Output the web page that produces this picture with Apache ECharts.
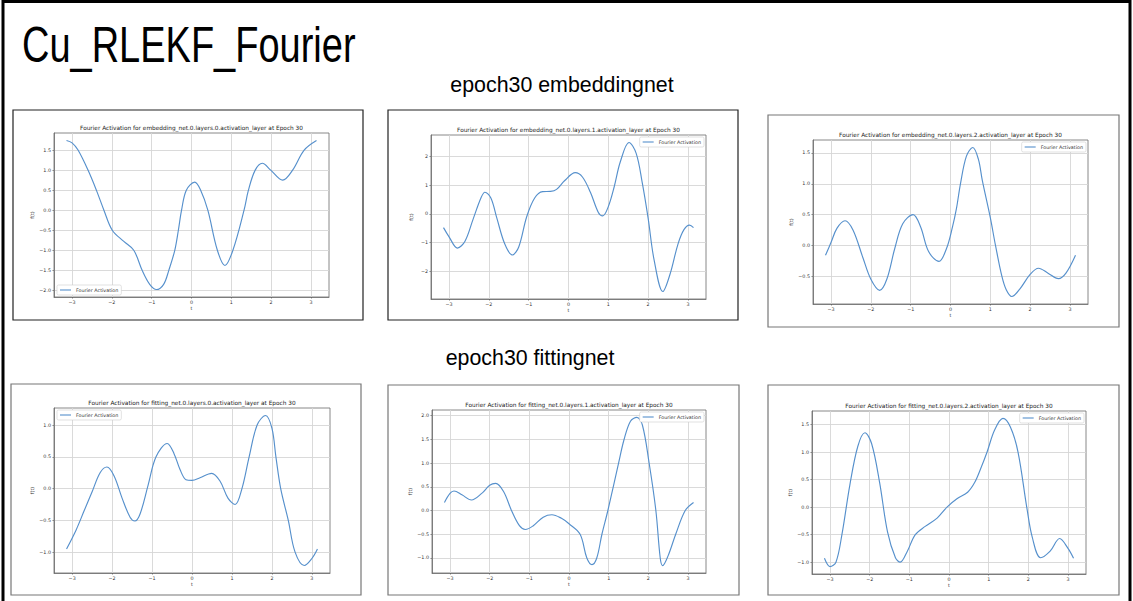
<!DOCTYPE html>
<html>
<head>
<meta charset="utf-8">
<script src="https://cdn.jsdelivr.net/npm/echarts@6/dist/echarts.min.js"></script>
<style>
html,body{margin:0;padding:0;background:#fff;}
#c{width:1133px;height:601px;}
</style>
</head>
<body>
<div id="c"></div>
<script>
// ---------------- DATA ----------------
const slideTitle = 'Cu_RLEKF_Fourier';
const sectionTitles = ['epoch30 embeddingnet', 'epoch30 fittingnet'];
const plotTitles = [
  'Fourier Activation for embedding_net.0.layers.0.activation_layer at Epoch 30',
  'Fourier Activation for embedding_net.0.layers.1.activation_layer at Epoch 30',
  'Fourier Activation for embedding_net.0.layers.2.activation_layer at Epoch 30',
  'Fourier Activation for fitting_net.0.layers.0.activation_layer at Epoch 30',
  'Fourier Activation for fitting_net.0.layers.1.activation_layer at Epoch 30',
  'Fourier Activation for fitting_net.0.layers.2.activation_layer at Epoch 30'
];
const seriesName = 'Fourier Activation';
const xName = 't';
const yName = 'f(t)';
const xTicks = [-3, -2, -1, 0, 1, 2, 3];

const emb0T = [-3.14,-3.0,-2.85,-2.6,-2.39,-2.2,-1.99,-1.7,-1.45,-1.24,-1.05,-0.88,-0.7,-0.57,-0.42,-0.33,-0.25,-0.13,0.08,0.23,0.41,0.65,0.84,1.04,1.32,1.43,1.6,1.78,1.99,2.29,2.54,2.83,3.14];
const emb0F = [1.74,1.68,1.5,1.0,0.5,0.0,-0.5,-0.78,-1.0,-1.5,-1.85,-1.98,-1.85,-1.5,-1.0,-0.5,0.0,0.5,0.70,0.5,0.0,-1.0,-1.38,-1.0,0.0,0.5,1.0,1.17,1.0,0.75,1.0,1.5,1.74];
const emb0Y = [-2.0,-1.5,-1.0,-0.5,0.0,0.5,1.0,1.5];

const emb1T = [-3.14,-3.0,-2.79,-2.6,-2.4,-2.2,-2.1,-1.95,-1.8,-1.6,-1.41,-1.25,-1.05,-0.85,-0.65,-0.45,-0.3,-0.1,0.17,0.35,0.55,0.75,0.86,1.0,1.15,1.3,1.52,1.7,1.85,2.0,2.15,2.37,2.55,2.75,2.9,3.04,3.14];
const emb1F = [-0.48,-0.8,-1.19,-0.95,-0.2,0.55,0.75,0.55,-0.15,-1.05,-1.43,-1.15,-0.1,0.55,0.77,0.78,0.85,1.15,1.43,1.28,0.75,0.05,-0.07,0.25,0.95,1.8,2.48,2.1,1.1,-0.15,-1.6,-2.7,-2.1,-1.05,-0.55,-0.39,-0.48];
const emb1Y = [-2, -1, 0, 1, 2];

const emb2T = [-3.14,-3.0,-2.85,-2.65,-2.45,-2.2,-2.0,-1.78,-1.6,-1.4,-1.2,-0.94,-0.75,-0.55,-0.29,-0.1,0.05,0.15,0.25,0.4,0.56,0.7,0.8,1.0,1.13,1.29,1.4,1.54,1.75,2.0,2.21,2.45,2.71,2.9,3.14];
const emb2F = [-0.16,0.05,0.28,0.40,0.25,-0.2,-0.55,-0.73,-0.55,-0.05,0.35,0.50,0.3,-0.1,-0.26,-0.05,0.3,0.6,1.0,1.45,1.59,1.4,1.05,0.45,0.0,-0.5,-0.72,-0.83,-0.7,-0.47,-0.37,-0.45,-0.54,-0.45,-0.16];
const emb2Y = [-0.5, 0.0, 0.5, 1.0, 1.5];

const fit0T = [-3.14,-2.9,-2.7,-2.5,-2.3,-2.13,-1.95,-1.75,-1.55,-1.43,-1.3,-1.1,-0.9,-0.62,-0.45,-0.3,-0.15,0.0,0.2,0.49,0.7,0.9,1.08,1.25,1.43,1.63,1.84,2.0,2.1,2.22,2.41,2.58,2.81,3.0,3.14];
const fit0F = [-0.95,-0.65,-0.35,-0.05,0.25,0.34,0.2,-0.15,-0.45,-0.51,-0.4,0.05,0.5,0.71,0.55,0.3,0.14,0.13,0.17,0.24,0.12,-0.15,-0.25,0.0,0.5,1.0,1.15,0.95,0.5,0.0,-0.5,-1.0,-1.21,-1.1,-0.95];
const fit0Y = [-1.0, -0.5, 0.0, 0.5, 1.0];

const fit1T = [-3.14,-3.0,-2.9,-2.7,-2.46,-2.2,-2.0,-1.85,-1.65,-1.45,-1.25,-1.1,-0.9,-0.65,-0.43,-0.2,0.0,0.28,0.45,0.58,0.7,0.83,0.98,1.25,1.39,1.55,1.71,1.85,2.02,2.19,2.3,2.36,2.5,2.69,2.93,3.14];
const fit1F = [0.17,0.36,0.41,0.33,0.22,0.36,0.53,0.57,0.4,0.0,-0.32,-0.40,-0.32,-0.14,-0.09,-0.16,-0.28,-0.5,-1.0,-1.14,-1.0,-0.5,0.0,1.0,1.5,1.88,1.96,1.8,1.0,0.0,-1.0,-1.16,-0.95,-0.5,0.0,0.17];
const fit1Y = [-1.0, -0.5, 0.0, 0.5, 1.0, 1.5, 2.0];

const fit2T = [-3.14,-3.0,-2.85,-2.7,-2.5,-2.3,-2.12,-1.95,-1.75,-1.55,-1.35,-1.23,-1.05,-0.85,-0.6,-0.3,-0.05,0.2,0.47,0.65,0.8,0.96,1.15,1.36,1.55,1.74,1.96,2.1,2.31,2.55,2.79,3.0,3.14];
const fit2F = [-0.93,-1.08,-1.0,-0.5,0.4,1.1,1.35,1.15,0.45,-0.45,-0.92,-1.0,-0.8,-0.5,-0.35,-0.2,0.0,0.15,0.27,0.45,0.7,1.0,1.4,1.61,1.45,1.0,0.0,-0.55,-0.92,-0.8,-0.57,-0.75,-0.93];
const fit2Y = [-1.0, -0.5, 0.0, 0.5, 1.0, 1.5];

// ---------------- LAYOUT ----------------
const plotsT = [emb0T, emb1T, emb2T, fit0T, fit1T, fit2T];
const plotsF = [emb0F, emb1F, emb2F, fit0F, fit1F, fit2F];
const plotsY = [emb0Y, emb1Y, emb2Y, fit0Y, fit1Y, fit2Y];

const W = 1133, H = 601;
const boxes = [
  {bx:13, by:110, bw:350, bh:210, gl:54,  gt:133, gr:329, gb:297, col:'#222', leg:'ll'},
  {bx:388,by:110, bw:350, bh:210, gl:431, gt:135, gr:706, gb:299, col:'#222', leg:'ur'},
  {bx:768,by:115, bw:351, bh:212, gl:813, gt:140, gr:1088,gb:304, col:'#777', leg:'ur'},
  {bx:11, by:384, bw:350, bh:211, gl:54,  gt:408, gr:330, gb:573, col:'#777', leg:'ul'},
  {bx:388,by:385, bw:351, bh:210, gl:432, gt:410, gr:706, gb:573, col:'#777', leg:'ur'},
  {bx:768,by:385, bw:351, bh:210, gl:812, gt:411, gr:1086,gb:574, col:'#777', leg:'ur'}
];

const FONT = 'DejaVu Sans';
const LINE = '#5690cc';
const fmtNum = (v, d) => (v < 0 ? '\u2212' : '') + Math.abs(v).toFixed(d);

const grid = [], xAxis = [], yAxis = [], series = [], legend = [], graphic = [];

function extent(arr) {
  let mn = Math.min(...arr), mx = Math.max(...arr);
  const m = (mx - mn) * 0.05;
  return [mn - m, mx + m];
}

boxes.forEach((b, i) => {
  const T = plotsT[i], F = plotsF[i], Yt = plotsY[i];
  const xe = extent(T), ye = extent(F);
  const yStep = Yt[1] - Yt[0];
  const dec = Number.isInteger(yStep) ? 0 : 1;
  grid.push({left: b.gl, top: b.gt, width: b.gr - b.gl, height: b.gb - b.gt,
    show: true, borderColor: '#6a6a6a', borderWidth: 0.8, containLabel: false});
  xAxis.push({
    type: 'value', gridIndex: i, min: xe[0], max: xe[1], splitNumber: 6,
    name: xName, nameLocation: 'middle', nameGap: 9,
    nameTextStyle: {fontSize: 4.8, fontFamily: FONT, color: '#333'},
    axisLine: {show: true, onZero: false, lineStyle: {color: '#6a6a6a', width: 0.8}},
    axisTick: {show: true, length: 1.6, customValues: xTicks, lineStyle: {color: '#555', width: 0.6}},
    axisLabel: {customValues: xTicks, fontSize: 4.8, fontFamily: FONT, color: '#333', margin: 3,
      showMinLabel: true, showMaxLabel: true, formatter: v => fmtNum(v, 0)},
    splitLine: {show: true, lineStyle: {color: '#d6d6d6', width: 0.9}}
  });
  yAxis.push({
    type: 'value', gridIndex: i, min: ye[0], max: ye[1], splitNumber: 6,
    name: yName, nameLocation: 'middle', nameGap: 17,
    nameTextStyle: {fontSize: 4.8, fontFamily: FONT, color: '#333'},
    axisLine: {show: true, onZero: false, lineStyle: {color: '#6a6a6a', width: 0.8}},
    axisTick: {show: true, length: 1.6, customValues: Yt, lineStyle: {color: '#555', width: 0.6}},
    axisLabel: {customValues: Yt, fontSize: 4.8, fontFamily: FONT, color: '#333', margin: 3,
      formatter: v => fmtNum(v, dec)},
    splitLine: {show: true, lineStyle: {color: '#d6d6d6', width: 0.9}}
  });
  series.push({
    name: seriesName, type: 'line', xAxisIndex: i, yAxisIndex: i,
    data: T.map((t, k) => [t, F[k]]),
    smooth: 0.35, symbol: 'none', silent: true, animation: false,
    lineStyle: {color: LINE, width: 1.15}, itemStyle: {color: LINE}
  });
  const lg = {
    data: [{name: seriesName, icon: 'rect'}], selectedMode: false, orient: 'horizontal',
    itemWidth: 11, itemHeight: 1.1, itemGap: 2,
    padding: [2.5, 3, 2.5, 3], borderColor: '#cfcfcf', borderWidth: 0.6, borderRadius: 1.5,
    backgroundColor: '#ffffff',
    textStyle: {fontSize: 4.8, fontFamily: FONT, color: '#333', padding: [0, 0, 0, 0]}
  };
  if (b.leg === 'll') { lg.left = b.gl + 3; lg.top = b.gb - 12; }
  else if (b.leg === 'ul') { lg.left = b.gl + 3; lg.top = b.gt + 2; }
  else { lg.right = W - (b.gr - 2); lg.top = b.gt + 2; }
  legend.push(lg);

  graphic.push({type: 'rect', silent: true, z: 0,
    shape: {x: b.bx, y: b.by, width: b.bw, height: b.bh},
    style: {fill: 'none', stroke: b.col, lineWidth: 1.2}});
  graphic.push({type: 'text', silent: true,
    style: {text: plotTitles[i], x: (b.gl + b.gr) / 2, y: b.gt - 5,
      align: 'center', verticalAlign: 'middle', fill: '#222',
      font: '5.8px "' + FONT + '"'}});
});

// slide frame and headings
graphic.push({type: 'rect', silent: true,
  shape: {x: 3, y: 1.5, width: 1127, height: 640},
  style: {fill: 'none', stroke: '#000', lineWidth: 3}});
graphic.push({type: 'text', silent: true, x: 22, y: 45, scaleX: 0.76,
  style: {text: slideTitle, x: 0, y: 0, verticalAlign: 'middle', align: 'left',
    fill: '#000', font: '50px "Liberation Sans"'}});
graphic.push({type: 'text', silent: true, x: 562, y: 84, scaleX: 0.93,
  style: {text: sectionTitles[0], x: 0, y: 0, verticalAlign: 'middle', align: 'center',
    fill: '#000', font: '23px "Liberation Sans"'}});
graphic.push({type: 'text', silent: true, x: 530, y: 357, scaleX: 0.93,
  style: {text: sectionTitles[1], x: 0, y: 0, verticalAlign: 'middle', align: 'center',
    fill: '#000', font: '23px "Liberation Sans"'}});

const chart = echarts.init(document.getElementById('c'), null, {renderer: 'svg', width: W, height: H});
chart.setOption({
  animation: false,
  backgroundColor: '#fff',
  grid, xAxis, yAxis, series, legend, graphic
});
</script>
</body>
</html>
